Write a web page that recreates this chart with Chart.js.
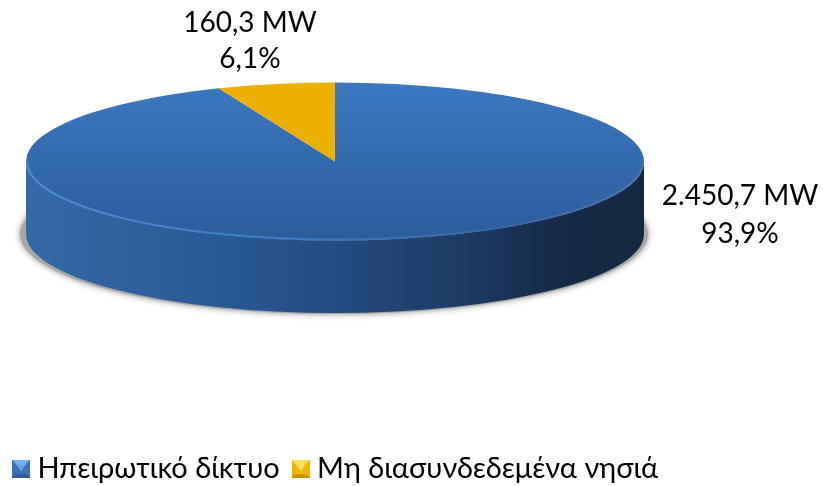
<!DOCTYPE html>
<html>
<head>
<meta charset="utf-8">
<title>Chart</title>
<script src="https://cdn.jsdelivr.net/npm/chart.js@4/dist/chart.umd.min.js"></script>
<style>
    html, body { margin: 0; padding: 0; background: #fff; }
    #wrap { width: 823px; height: 486px; }
</style>
</head>
<body>
<div id="wrap"><canvas id="pieChart"></canvas></div>
<script>
// Chart data
const categories = ['Ηπειρωτικό δίκτυο', 'Μη διασυνδεδεμένα νησιά'];
const capacityMw = [2450.7, 160.3];
const mwLabels = ['2.450,7 MW', '160,3 MW'];
const percentLabels = ['93,9%', '6,1%'];

const FONT = 'Lato, "Open Sans", sans-serif';
const RADIUS = 309;      // horizontal radius of the top face
const SQUASH = 0.2557;   // ellipse height / width
const DEPTH = 72.5;      // height of the side wall
const CENTER_X = 335;
const CENTER_Y = 161.5;
const labelPos = [{ x: 740, y1: 205, y2: 243 }, { x: 250, y1: 32, y2: 68 }];

// little bevelled legend squares
function makeMarker(light, mid, dark, top) {
    const s = 18;
    const c = document.createElement('canvas');
    c.width = s;
    c.height = s;
    const g = c.getContext('2d');
    const tri = (pts, col) => {
        g.fillStyle = col;
        g.beginPath();
        pts.forEach((p, i) => i ? g.lineTo(p[0], p[1]) : g.moveTo(p[0], p[1]));
        g.closePath();
        g.fill();
    };
    g.fillStyle = mid;
    g.fillRect(0, 0, s, s);
    tri([[0, 0], [s, 0], [s - 5, 6], [5, 6]], top);
    tri([[0, s], [s, s], [s - 3, s - 3], [3, s - 3]], dark);
    tri([[5, 6], [s - 5, 6], [s / 2, 12]], light);
    return c;
}
const markers = [
    makeMarker('#5fa3e8', '#3a72b4', '#2b5a94', '#6fb0ee'),
    makeMarker('#ffe26a', '#efb400', '#c98f00', '#ffdd55')
];

// Draws the shadow and side wall under the pie, then squashes the pie itself
const tiltPlugin = {
    id: 'tilt',
    beforeDatasetsDraw(chart) {
        const ctx = chart.ctx;
        const arcs = chart.getDatasetMeta(0).data;
        const rx = arcs[0].outerRadius;
        const ry = rx * SQUASH;

        // shadow
        ctx.save();
        ctx.shadowColor = 'rgba(70,70,70,0.6)';
        ctx.shadowBlur = 6;
        ctx.fillStyle = '#a8a8a8';
        ctx.beginPath();
        ctx.ellipse(CENTER_X - 1, CENTER_Y + DEPTH, rx + 5, ry + 1, 0, 0, Math.PI * 2);
        ctx.fill();
        ctx.restore();

        // side wall, only the front half of each arc shows
        const wall = ctx.createLinearGradient(CENTER_X - rx, 0, CENTER_X + rx, 0);
        wall.addColorStop(0, '#336aa7');
        wall.addColorStop(0.3, '#2a5a94');
        wall.addColorStop(0.5, '#234c80');
        wall.addColorStop(0.72, '#1b3a63');
        wall.addColorStop(0.85, '#152b49');
        wall.addColorStop(1, '#142840');
        arcs.forEach(arc => {
            const a0 = Math.max(arc.startAngle, 0);
            const a1 = Math.min(arc.endAngle, Math.PI);
            if (a1 <= a0) return;
            ctx.fillStyle = wall;
            ctx.beginPath();
            ctx.ellipse(CENTER_X, CENTER_Y, rx, ry, 0, a0, a1);
            ctx.ellipse(CENTER_X, CENTER_Y + DEPTH, rx, ry, 0, a1, a0, true);
            ctx.closePath();
            ctx.fill();
        });

        ctx.save();
        ctx.translate(CENTER_X, CENTER_Y);
        ctx.scale(1, SQUASH);
        ctx.translate(-arcs[0].x, -arcs[0].y);
    },
    afterDatasetsDraw(chart) {
        const ctx = chart.ctx;
        ctx.restore();

        const arcs = chart.getDatasetMeta(0).data;
        const rx = arcs[0].outerRadius;
        const ry = rx * SQUASH;

        // light rim along the front edge
        const rim = ctx.createLinearGradient(CENTER_X - rx, 0, CENTER_X + rx, 0);
        rim.addColorStop(0, '#4b8ad6');
        rim.addColorStop(0.45, '#3f7cc6');
        rim.addColorStop(0.75, 'rgba(70,120,180,0.35)');
        rim.addColorStop(1, 'rgba(90,130,180,0.5)');
        ctx.save();
        ctx.strokeStyle = rim;
        ctx.lineWidth = 2;
        ctx.beginPath();
        ctx.ellipse(CENTER_X, CENTER_Y, rx - 1, ry - 1, 0, 0, Math.PI);
        ctx.stroke();
        ctx.restore();

        // value labels
        ctx.save();
        ctx.fillStyle = '#000';
        ctx.font = '28px ' + FONT;
        ctx.textAlign = 'center';
        ctx.textBaseline = 'alphabetic';
        mwLabels.forEach((t, i) => {
            ctx.fillText(t, labelPos[i].x, labelPos[i].y1);
            ctx.fillText(percentLabels[i], labelPos[i].x, labelPos[i].y2);
        });
        ctx.restore();
    }
};

new Chart(document.getElementById('pieChart'), {
    type: 'pie',
    data: {
        labels: categories,
        datasets: [{
            data: capacityMw,
            borderWidth: 0,
            radius: RADIUS,
            backgroundColor: (c) => {
                if (c.dataIndex === 1) return '#ecb100';
                const area = c.chart.chartArea;
                if (!area) return '#3568a8';
                const mid = (area.top + area.bottom) / 2;
                const g = c.chart.ctx.createLinearGradient(0, mid - RADIUS, 0, mid + RADIUS);
                g.addColorStop(0, '#3b78c1');
                g.addColorStop(1, '#2c5c9a');
                return g;
            }
        }]
    },
    options: {
        responsive: true,
        maintainAspectRatio: false,
        animation: false,
        // negative bottom pushes the legend down, its padding is wide because of the item gap
        layout: { padding: { bottom: -7 } },
        plugins: {
            tooltip: { enabled: false },
            legend: {
                position: 'bottom',
                align: 'start',
                labels: {
                    color: '#000',
                    font: { family: FONT, size: 29 },
                    usePointStyle: true,
                    pointStyleWidth: 4,  // marker overflows its box, keeps the text close to it
                    padding: 19,
                    generateLabels: (chart) => chart.data.labels.map((text, i) => ({
                        text,
                        pointStyle: markers[i],
                        fillStyle: '#000',
                        strokeStyle: '#000',
                        lineWidth: 0,
                        index: i
                    }))
                }
            }
        }
    },
    plugins: [tiltPlugin]
});
</script>
</body>
</html>
